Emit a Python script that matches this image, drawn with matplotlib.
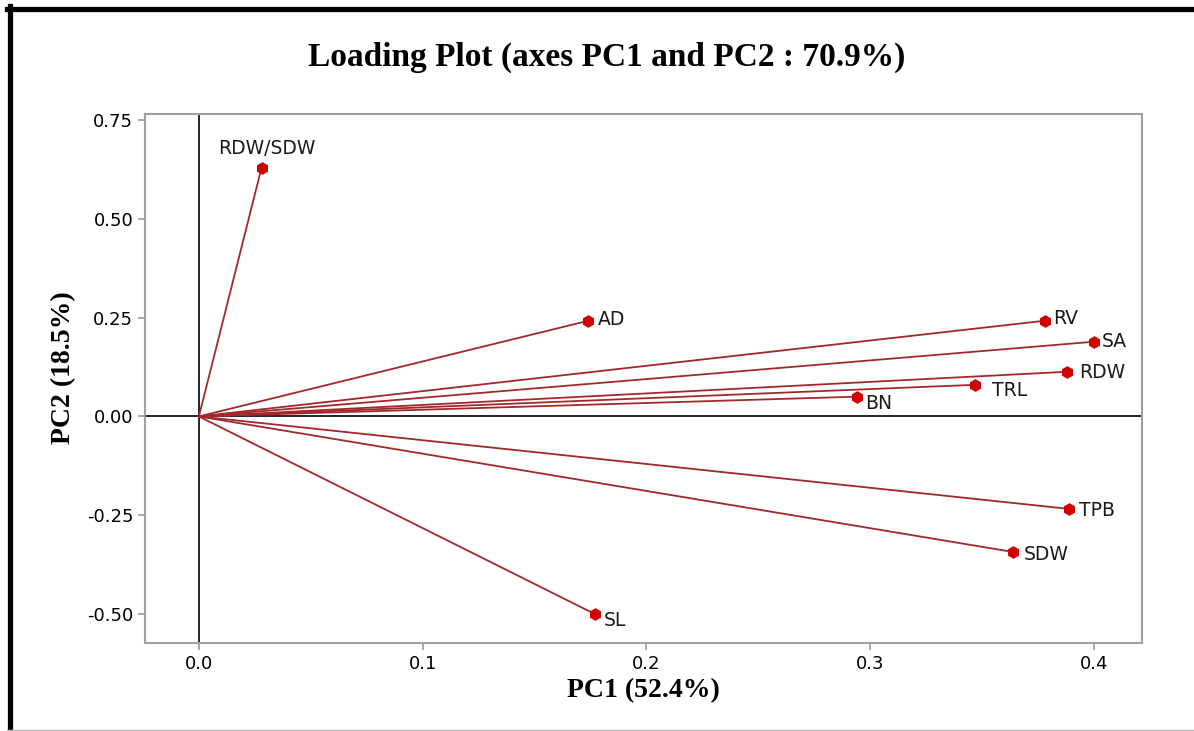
import matplotlib.pyplot as plt
from matplotlib.lines import Line2D

# Loadings
variables = ['RDW/SDW', 'AD', 'RV', 'SA', 'RDW', 'TRL', 'BN', 'TPB', 'SDW', 'SL']
pc1 = [0.028, 0.174, 0.378, 0.400, 0.388, 0.347, 0.294, 0.389, 0.364, 0.177]
pc2 = [0.629, 0.242, 0.242, 0.189, 0.113, 0.080, 0.050, -0.234, -0.343, -0.500]

# label offsets in pixels (dx, dy)
offsets = {
    'RDW/SDW': (5, 19), 'AD': (10, 1), 'RV': (8, 2), 'SA': (8, 0),
    'RDW': (12, -1), 'TRL': (17, -6), 'BN': (8, -7), 'TPB': (10, -2),
    'SDW': (10, -2), 'SL': (9, -6),
}

fig = plt.figure(figsize=(11.94, 7.31), dpi=100)
ax = fig.add_axes([0.1214, 0.1204, 0.835, 0.7237])

ax.axhline(0, color='black', lw=1.2, zorder=1)
ax.axvline(0, color='black', lw=1.2, zorder=1)

for name, x, y in zip(variables, pc1, pc2):
    ax.plot([0, x], [0, y], color='#a3282c', lw=1.3, zorder=2)
    ax.plot(x, y, marker='h', color='#d00000', markersize=8, zorder=3)
    dx, dy = offsets[name]
    ha = 'center' if name == 'RDW/SDW' else 'left'
    ax.annotate(name, (x, y), xytext=(dx * 0.72, dy * 0.72), textcoords='offset points',
                ha=ha, va='center', fontsize=13.5, color='#1a1a1a')

ax.set_xlim(-0.0241, 0.4214)
ax.set_ylim(-0.573, 0.765)
ax.set_xticks([0.0, 0.1, 0.2, 0.3, 0.4])
ax.set_yticks([0.75, 0.50, 0.25, 0.00, -0.25, -0.50])
ax.set_yticklabels(['0.75', '0.50', '0.25', '0.00', '-0.25', '-0.50'])
ax.tick_params(labelsize=13, color='#999999', length=5, width=1.2)
for s in ax.spines.values():
    s.set_color('#a0a0a0')
    s.set_linewidth(1.5)

serif = ['Liberation Serif', 'DejaVu Serif']
ax.set_xlabel('PC1 (52.4%)', fontsize=20, fontweight='bold', family=serif, labelpad=4)
ax.set_ylabel('PC2 (18.5%)', fontsize=20, fontweight='bold', family=serif)
ax.yaxis.set_label_coords(-0.069, 0.52)
fig.text(0.508, 0.922, 'Loading Plot (axes PC1 and PC2 : 70.9%)', ha='center', va='center',
         fontsize=24, fontweight='bold', family=serif)

# frame around the figure
W, H = 1194, 731
fig.add_artist(Line2D([9.5 / W, 9.5 / W], [0, 1 - 6 / H], color='black', lw=3.8,
                      transform=fig.transFigure, solid_capstyle='projecting'))
fig.add_artist(Line2D([7 / W, 1], [1 - 8.5 / H, 1 - 8.5 / H], color='black', lw=3.8,
                      transform=fig.transFigure))
fig.add_artist(Line2D([7 / W, 1], [1.5 / H, 1.5 / H], color='#bbbbbb', lw=1,
                      transform=fig.transFigure))

plt.savefig('out.png', dpi=100)
plt.close()
